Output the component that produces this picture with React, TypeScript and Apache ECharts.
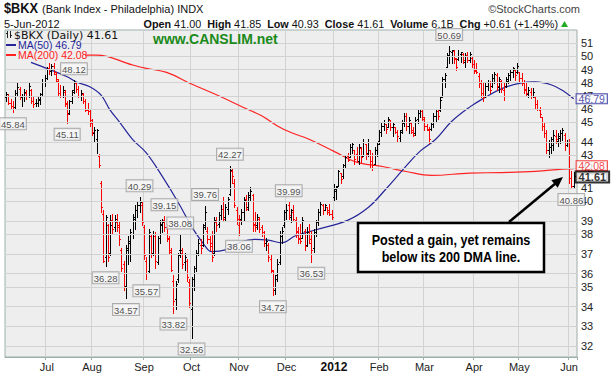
import React, { useEffect, useRef } from 'react';
import * as echarts from 'echarts';

// ---- OHLC data [open, high, low, close] per month ----
const jun2011 = [
  [46.9,47.3,46.6,47.1],[47.0,47.1,46.4,46.5],[46.5,46.8,46.1,46.3],[46.3,46.6,45.84,46.1],
  [46.2,47.4,46.1,47.2],[47.2,47.9,47.0,47.6],[47.5,47.6,46.8,46.9],[46.9,47.1,46.3,47.0],
  [47.0,47.5,46.6,47.3],[47.2,47.4,46.8,47.0],[47.0,47.9,46.9,47.7],[47.4,47.5,46.5,46.6],
  [46.6,46.9,46.2,46.4],[46.5,46.8,46.3,46.5],[46.5,46.9,46.3,46.7],[46.8,47.2,46.4,47.0],
  [47.1,48.2,47.0,48.0],[48.0,48.5,47.7,48.3],
];
const jul2011 = [
  [48.3,49.1,48.2,49.0],[49.0,49.4,48.6,48.8],[48.8,49.3,48.5,49.2],[49.2,49.4,48.6,48.7],
  [48.6,48.7,48.0,48.2],[48.1,48.2,47.0,47.2],[47.2,47.8,46.9,47.0],[47.0,47.7,46.9,47.4],
  [47.3,47.4,46.3,46.5],[46.4,46.6,45.11,45.7],[45.8,46.7,45.7,46.6],[46.6,47.4,46.5,47.3],
  [47.4,48.12,47.2,47.9],[47.9,48.0,47.3,47.5],[47.5,47.7,46.9,47.0],[47.0,47.4,46.7,47.2],
  [47.1,47.2,46.5,46.6],[46.6,46.8,45.9,46.0],[46.0,46.5,45.7,45.9],[45.9,46.1,44.9,45.1],
];
const aug2011 = [
  [45.3,45.4,44.3,44.5],[44.4,44.8,43.9,44.6],[44.0,44.7,43.1,44.65],[42.9,43.0,42.2,42.3],
  [41.2,41.3,39.4,39.7],[39.3,39.5,36.5,36.6],[36.8,39.2,36.28,39.1],[38.6,38.7,36.6,36.8],
  [37.0,39.2,36.9,38.6],[38.9,39.3,38.1,38.4],[38.5,39.2,38.3,39.0],[38.8,39.3,38.3,38.5],
  [38.6,38.8,37.5,37.8],[37.2,37.3,36.0,36.2],[36.4,36.6,35.0,35.2],[35.2,37.5,34.57,37.3],
  [37.2,38.0,36.4,37.7],[37.6,38.4,36.6,38.2],[38.1,39.3,37.9,39.1],[39.0,39.8,38.4,39.5],
  [39.5,40.0,39.1,39.8],[39.8,40.29,39.4,40.0],[39.8,40.0,38.6,38.8],
];
const sep2011 = [
  [38.5,38.6,36.7,36.9],[36.6,36.8,35.57,35.9],[36.0,38.4,35.9,38.2],[38.0,38.1,36.8,37.0],
  [37.0,38.3,36.9,38.1],[38.0,38.2,36.2,36.6],[36.5,38.0,36.4,37.9],[37.9,38.9,37.6,38.7],
  [38.6,39.0,38.2,38.8],[38.9,39.15,38.3,38.5],[38.5,38.7,37.7,37.9],[37.8,38.0,37.0,37.2],
  [37.1,37.3,36.0,36.1],[35.5,35.8,33.82,34.4],[34.5,35.5,34.0,35.3],[35.6,37.0,35.4,36.9],
  [37.2,38.08,36.8,37.2],[37.0,37.3,36.2,36.4],[36.5,37.0,36.1,36.8],[36.6,36.7,35.5,35.7],
  [35.4,35.6,34.1,34.3],
];
const oct2011 = [
  [34.0,35.7,32.56,35.6],[35.6,36.3,35.0,36.2],[36.2,37.2,36.0,37.0],[37.0,37.8,36.9,37.6],
  [37.5,37.8,37.0,37.3],[37.5,38.7,37.4,38.5],[38.6,39.76,38.4,39.4],[38.3,38.5,37.6,37.8],
  [37.8,38.0,37.2,37.4],[37.6,38.3,36.6,36.8],[37.0,39.1,36.9,38.9],[38.8,39.1,38.3,38.6],
  [38.7,39.4,38.5,39.2],[39.2,39.8,39.0,39.6],[39.6,40.3,38.9,39.0],[39.1,39.9,38.9,39.7],
  [39.6,40.3,39.3,40.2],[40.5,42.27,40.4,42.0],[41.9,42.1,41.2,41.6],[41.2,41.4,39.7,39.8],
  [39.5,39.7,38.7,39.0],
];
const nov2011 = [
  [38.6,39.2,38.06,38.9],[39.0,39.6,38.7,39.4],[39.4,40.3,38.9,40.1],[40.2,40.4,39.5,39.6],
  [39.7,40.6,39.5,40.4],[40.3,40.95,40.1,40.7],[40.4,40.5,38.3,38.6],[38.7,39.4,38.3,38.5],
  [38.6,39.3,38.4,39.1],[39.0,39.1,38.2,38.4],[38.5,38.6,38.0,38.1],[38.2,38.3,37.4,37.6],
  [37.6,37.9,37.2,37.7],[37.5,37.6,36.6,36.8],[36.7,36.9,35.9,36.1],[36.0,36.1,34.72,35.0],
  [35.0,35.8,34.8,35.6],[35.8,36.7,35.5,36.4],[36.5,38.3,36.4,38.1],[38.0,38.5,37.6,38.3],
  [38.6,39.5,38.5,39.4],
];
const dec2011 = [
  [39.4,39.9,39.0,39.5],[39.8,39.99,39.0,39.2],[39.1,39.6,38.8,39.5],[39.4,39.8,38.9,39.0],
  [38.9,39.1,37.95,38.2],[38.3,38.5,37.6,37.8],[37.9,38.7,37.6,37.7],[37.9,39.1,37.9,38.9],
  [38.3,38.4,37.2,37.4],[37.5,38.5,37.4,38.2],[38.1,38.7,37.6,37.8],[37.6,38.3,36.53,37.2],
  [37.3,38.4,37.1,38.2],[38.2,38.9,38.0,38.8],[38.8,39.6,38.6,39.4],[39.4,40.0,39.2,39.9],
  [39.8,39.9,39.3,39.5],[39.5,39.9,39.5,39.8],[39.7,39.7,39.3,39.4],[39.5,39.9,39.2,39.3],
  [39.3,39.5,39.0,39.1],
];
const jan2012 = [
  [40.3,41.1,40.1,40.8],[40.7,41.0,40.2,40.9],[41.0,42.0,41.0,41.9],[41.8,41.8,41.2,41.4],
  [41.6,42.4,41.5,42.3],[42.3,42.9,42.2,42.8],[42.9,43.1,42.6,42.65],[42.8,43.7,42.8,43.5],
  [43.5,43.8,43.1,43.7],[43.3,43.3,42.4,42.7],[43.0,43.5,42.6,42.6],[42.6,43.7,42.4,43.5],
  [43.4,43.5,42.5,42.8],[42.9,44.0,42.9,43.8],[43.7,43.7,42.7,43.0],[43.1,44.0,42.9,43.8],
  [43.3,43.3,42.2,42.6],[42.6,43.1,42.0,42.3],[42.4,43.5,42.4,43.3],[43.3,43.8,42.9,43.7],
];
const feb2012 = [
  [43.9,44.6,43.7,44.5],[44.5,45.1,44.2,44.9],[44.9,45.3,44.6,45.2],[45.0,45.0,44.4,44.7],
  [44.8,45.5,44.8,45.4],[45.3,45.3,44.6,44.8],[44.8,45.1,44.2,45.0],[44.85,44.85,44.4,44.5],
  [44.5,44.6,43.9,44.2],[44.1,44.6,43.9,44.5],[44.6,45.3,44.4,45.1],[45.2,45.8,44.9,45.6],
  [45.6,45.8,44.6,44.9],[44.9,45.5,44.4,45.3],[45.1,45.1,44.4,44.6],[44.5,44.85,44.2,44.3],
  [44.4,45.5,44.3,45.3],[45.4,46.0,45.1,45.8],[45.8,46.0,45.5,45.9],[45.9,46.0,45.3,45.5],
];
const mar2012 = [
  [45.4,45.5,44.65,44.9],[44.9,45.05,44.6,44.7],[44.6,44.8,43.74,44.0],[44.7,45.08,44.62,45.0],
  [45.0,45.77,44.85,45.6],[45.6,46.0,45.2,45.9],[45.9,46.1,45.4,45.6],[46.0,46.9,45.9,46.7],
  [46.9,48.39,46.9,48.2],[48.2,48.63,47.66,48.5],[49.1,50.13,49.1,50.0],[49.9,50.69,49.37,50.3],
  [50.2,50.38,49.37,50.35],[50.3,50.38,49.37,49.8],[49.7,49.75,48.88,49.1],[49.7,50.38,49.63,49.9],
  [50.1,50.25,49.5,50.2],[50.1,50.13,49.37,49.6],[49.5,50.13,49.12,50.0],[50.0,50.25,49.5,49.6],
  [49.6,50.25,49.5,50.1],[49.8,49.88,49.12,49.3],
];
const apr2012 = [
  [49.3,49.63,48.63,48.9],[48.8,49.37,48.63,48.7],[48.4,48.63,47.66,47.9],[48.0,48.14,46.94,47.2],
  [47.0,47.9,46.6,46.9],[47.0,47.9,46.9,47.7],[47.7,48.14,47.42,48.0],[48.0,48.1,47.2,47.4],
  [47.7,48.6,47.66,48.3],[48.3,48.76,47.9,48.6],[48.5,48.63,47.42,47.7],[47.6,48.39,47.3,48.2],
  [48.1,48.14,47.3,47.5],[47.4,47.9,46.7,47.0],[47.7,48.39,47.66,48.2],[48.1,48.63,47.9,48.5],
  [48.5,48.88,48.14,48.7],[48.7,49.12,48.39,49.0],[48.85,48.88,48.14,48.5],[48.7,49.37,48.63,49.2],
];
const may2012 = [
  [48.7,48.76,48.0,48.3],[48.3,48.63,47.78,48.0],[47.9,48.14,47.18,47.5],[47.4,47.9,47.06,47.2],
  [47.1,47.66,46.94,47.4],[47.3,47.54,46.82,47.0],[47.0,47.54,46.94,47.3],[46.9,46.94,46.12,46.4],
  [46.4,46.7,46.0,46.1],[46.0,46.23,45.53,45.7],[45.5,45.53,44.62,44.9],[44.9,45.08,44.18,44.4],
  [44.4,44.62,43.08,43.3],[43.3,43.96,42.86,43.5],[43.5,44.18,43.08,44.0],[43.6,44.62,43.29,44.3],
  [44.2,44.62,43.74,44.0],[43.9,44.4,43.52,44.2],[44.1,44.62,43.74,44.4],[44.4,44.73,43.96,44.6],
  [44.3,44.4,43.29,43.6],[43.6,43.96,43.52,43.8],
];
const jun2012 = [
  [43.8,44.0,41.2,41.5],[41.5,41.95,40.86,41.0],[41.0,41.85,40.93,41.61],
];

// ---- moving averages: [trading-day index, value] ----
const ma50 = [
  [11,49.45],[19,48.93],[27,48.38],[31,48.0],[37,47.65],[42,47.05],[46,45.99],[50,45.2],
  [56,43.98],[62,43.1],[69,41.6],[76,40.0],[82,38.55],[87,37.6],[91,37.1],[97,37.2],
  [103,37.6],[110,37.8],[116,37.75],[122,37.6],[128,38.0],[137,38.35],[151,38.9],
  [160,39.65],[168,40.8],[176,42.1],[183,43.2],[190,44.0],[197,45.2],[205,46.2],
  [212,46.9],[219,47.5],[227,47.9],[234,48.0],[241,47.8],[246,47.4],[251,46.79],
];
const ma200 = [
  [35,50.0],[40,50.0],[56,49.25],[62,49.0],[71,48.7],[82,47.85],[94,47.0],[106,46.1],
  [113,45.6],[120,44.9],[126,44.45],[134,44.0],[145,43.2],[155,42.5],[167,42.2],
  [177,41.9],[188,41.65],[205,41.8],[219,41.83],[234,41.9],[246,42.05],[251,42.08],
];

const priceTicks = [32,33,34,35,36,37,38,39,40,41,42,43,44,45,46,47,48,49,50,51];
const swingLabels = [
  [3,45.84,'bottom'],[27,45.11,'bottom'],[30,48.12,'top'],[44,36.28,'bottom'],
  [53,34.57,'bottom'],[59,40.29,'top'],[62,35.57,'bottom'],[70,39.15,'top'],
  [74,33.82,'bottom'],[77,38.08,'top'],[82,32.56,'bottom'],[88,39.76,'top'],
  [99,42.27,'top'],[103,38.06,'bottom'],[118,34.72,'bottom'],[125,39.99,'top'],
  [135,36.53,'bottom'],[196,50.69,'top'],[250,40.86,'bottom'],
];
const lastValues = { ma50: 46.79, ma200: 42.08, close: 41.61 };
const monthNames = ['Jan','Feb','Mar','Apr','May','Jun','Jul','Aug','Sep','Oct','Nov','Dec'];
const holidays = ['2011-07-04','2011-09-05','2011-11-24','2011-12-26','2012-01-02','2012-01-16','2012-02-20','2012-04-06','2012-05-28'];
const firstDay = '2011-06-07';
const lastDay = '2012-06-05';

const ohlc = [...jun2011, ...jul2011, ...aug2011, ...sep2011, ...oct2011, ...nov2011, ...dec2011,
  ...jan2012, ...feb2012, ...mar2012, ...apr2012, ...may2012, ...jun2012];

function tradingDays(): string[] {
  const out: string[] = [];
  const d = new Date(firstDay + 'T00:00:00Z');
  const end = new Date(lastDay + 'T00:00:00Z');
  while (d.getTime() <= end.getTime()) {
    const wd = d.getUTCDay();
    const s = d.toISOString().slice(0, 10);
    if (wd !== 0 && wd !== 6 && holidays.indexOf(s) < 0) out.push(s);
    d.setUTCDate(d.getUTCDate() + 1);
  }
  return out;
}

const FONT = 'Arial, "Liberation Sans", sans-serif';
const PLOT_BG = '#eeeeee';
const L = Math.log;

export default function App() {
  const ref = useRef<HTMLDivElement>(null);
  useEffect(() => {
    if (!ref.current) return;
    const chart = echarts.init(ref.current, undefined, { renderer: 'svg' });
    const dates = tradingDays();
    const categories = [...dates, ''];
    const isMonthStart = (index: number) =>
      index > 0 && index < dates.length && dates[index].slice(5, 7) !== dates[index - 1].slice(5, 7);

    const barData = ohlc.map((d, i) => {
      const prev = i === 0 ? d[0] : ohlc[i - 1][3];
      return [i, L(d[0]), L(d[1]), L(d[2]), L(d[3]), d[3] >= prev ? 1 : 0];
    });

    const tag = (v: number, color: string, bold: boolean, dy: number) => ({
      value: [ohlc.length - 1, L(v)],
      name: v.toFixed(2),
      label: {
        show: true, position: 'right', distance: 2, formatter: '{b}', offset: [0, dy],
        color, fontSize: bold ? 11 : 10.5, fontFamily: FONT, fontWeight: bold ? 'bold' : 'normal',
        backgroundColor: '#ffffff', borderColor: color, borderWidth: bold ? 2 : 1,
        padding: [0, 2, 0, 2], lineHeight: 9,
      },
    });

    const option: any = {
      animation: false,
      backgroundColor: '#ffffff',
      grid: { left: 5, right: 34, top: 30, bottom: 21, show: true, backgroundColor: PLOT_BG, borderColor: '#9bb0ab', borderWidth: 1 },
      xAxis: {
        type: 'category', data: categories, boundaryGap: true,
        axisLine: { show: true, lineStyle: { color: '#9bb0ab' } },
        axisTick: { show: true, interval: isMonthStart, length: 3, lineStyle: { color: '#9bb0ab' } },
        axisLabel: {
          interval: isMonthStart, margin: 4, color: '#222', fontSize: 11, fontFamily: FONT,
          formatter: (value: string) => {
            const m = Number(value.slice(5, 7));
            return m === 1 ? '{y|' + value.slice(0, 4) + '}' : monthNames[m - 1];
          },
          rich: { y: { fontWeight: 'bold', fontSize: 12, fontFamily: FONT, color: '#111' } },
        },
        splitLine: { show: true, interval: isMonthStart, lineStyle: { color: '#d2d2d2', width: 1 } },
      },
      yAxis: {
        type: 'value', position: 'right', min: L(31.613), max: L(51.94), scale: true,
        axisLine: { show: false }, axisTick: { show: false }, axisLabel: { show: false }, splitLine: { show: false },
      },
      series: [
        {
          type: 'line', name: 'grid', z: 1, data: [[0, L(40)]], symbol: 'none', silent: true,
          lineStyle: { opacity: 0 },
          markLine: {
            silent: true, symbol: ['none', 'none'], animation: false,
            lineStyle: { color: '#d2d2d2', width: 1, type: 'solid' },
            label: { show: true, position: 'end', distance: 4, color: '#222', fontSize: 11, fontFamily: FONT },
            data: priceTicks.map((v) => ({ yAxis: L(v), label: { formatter: String(v) } })),
          },
        },
        {
          type: 'line', name: 'MA(200)', z: 3, data: ma200.map(([i, v]) => [i, L(v)]), smooth: 0.4,
          symbol: 'none', lineStyle: { color: '#ff2222', width: 1.2 },
        },
        {
          type: 'line', name: 'MA(50)', z: 3, data: ma50.map(([i, v]) => [i, L(v)]), smooth: 0.4,
          symbol: 'none', lineStyle: { color: '#262699', width: 1.2 },
        },
        {
          type: 'custom', name: 'BKX', z: 4, data: barData,
          encode: { x: 0, y: [1, 2, 3, 4] },
          renderItem: (params: any, api: any) => {
            const i = api.value(0);
            const pO = api.coord([i, api.value(1)]);
            const pH = api.coord([i, api.value(2)]);
            const pL = api.coord([i, api.value(3)]);
            const pC = api.coord([i, api.value(4)]);
            const color = api.value(5) === 1 ? '#000000' : '#ff0000';
            const x = Math.round(pH[0]) + 0.5;
            const yo = Math.round(pO[1]) + 0.5;
            const yc = Math.round(pC[1]) + 0.5;
            const style = { stroke: color, lineWidth: 1 };
            return {
              type: 'group',
              children: [
                { type: 'line', shape: { x1: x, y1: Math.round(pH[1]), x2: x, y2: Math.round(pL[1]) + 1 }, style },
                { type: 'line', shape: { x1: x - 1.5, y1: yo, x2: x, y2: yo }, style },
                { type: 'line', shape: { x1: x, y1: yc, x2: x + 1.5, y2: yc }, style },
              ],
            };
          },
        },
        {
          type: 'scatter', name: 'swings', z: 6, symbolSize: 2, itemStyle: { color: 'rgba(0,0,0,0)' },
          data: swingLabels.map(([i, v, pos]) => ({
            value: [i, L(v as number)], name: (v as number).toFixed(2),
            label: {
              show: true, position: pos, distance: 5, formatter: '{b}', color: '#222',
              fontSize: 9.5, fontFamily: FONT, backgroundColor: '#f7f7f7', borderColor: '#9a9a9a',
              borderWidth: 1, padding: [1, 1, 0, 1], lineHeight: 10,
            },
          })),
        },
        {
          type: 'scatter', name: 'tags', z: 8, symbolSize: 2, itemStyle: { color: 'rgba(0,0,0,0)' },
          data: [
            tag(lastValues.ma50, '#262699', false, 0),
            tag(lastValues.ma200, '#ee1111', false, -3),
            tag(lastValues.close, '#000000', true, 1),
          ],
        },
      ],
      graphic: [
        { type: 'text', x: 4, y: 8, scaleX: 0.85, style: { text: '$BKX', font: 'bold 15px ' + FONT, fill: '#111', verticalAlign: 'middle' } },
        { type: 'text', x: 42, y: 9, style: { text: '(Bank Index - Philadelphia) INDX', font: '11px ' + FONT, fill: '#111', verticalAlign: 'middle' } },
        { type: 'text', x: 580, y: 9, style: { text: '\u00A9StockCharts.com', font: '11px ' + FONT, fill: '#444', align: 'right', verticalAlign: 'middle' } },
        { type: 'text', x: 4, y: 24, style: { text: '5-Jun-2012', font: '11px ' + FONT, fill: '#111', verticalAlign: 'middle' } },
        {
          type: 'text', x: 558, y: 24,
          style: {
            text: '{b|Open} 41.00  {b|High} 41.85  {b|Low} 40.93  {b|Close} 41.61  {b|Volume} 6.1B  {b|Chg} +0.61 (+1.49%)',
            font: '10.8px ' + FONT, fill: '#111', align: 'right', verticalAlign: 'middle',
            rich: { b: { fontWeight: 'bold', fontSize: 10.8, fontFamily: FONT, fill: '#111' } },
          },
        },
        { type: 'polygon', shape: { points: [[561, 27], [568, 27], [564.5, 21]] }, style: { fill: '#22aa22' } },
        // legend
        { type: 'rect', z: 50, shape: { x: 6, y: 31, width: 119, height: 9 }, style: { fill: PLOT_BG } },
        { type: 'rect', z: 50, shape: { x: 6, y: 40, width: 73, height: 10 }, style: { fill: PLOT_BG } },
        { type: 'rect', z: 50, shape: { x: 6, y: 50, width: 79, height: 10 }, style: { fill: PLOT_BG } },
        { type: 'line', z: 51, shape: { x1: 7.5, y1: 31, x2: 7.5, y2: 38 }, style: { stroke: '#222', lineWidth: 1 } },
        { type: 'line', z: 51, shape: { x1: 6, y1: 33.5, x2: 7.5, y2: 33.5 }, style: { stroke: '#222', lineWidth: 1 } },
        { type: 'line', z: 51, shape: { x1: 10.5, y1: 31, x2: 10.5, y2: 38 }, style: { stroke: '#222', lineWidth: 1 } },
        { type: 'line', z: 51, shape: { x1: 10.5, y1: 35.5, x2: 12, y2: 35.5 }, style: { stroke: '#222', lineWidth: 1 } },
        { type: 'text', z: 51, x: 14, y: 35, style: { text: '$BKX (Daily) 41.61', font: '11px "DejaVu Sans", sans-serif', fill: '#111', verticalAlign: 'middle' } },
        { type: 'line', z: 51, shape: { x1: 6, y1: 45, x2: 16, y2: 45 }, style: { stroke: '#262699', lineWidth: 2 } },
        { type: 'text', z: 51, x: 18, y: 45, style: { text: 'MA(50) 46.79', font: '10.5px ' + FONT, fill: '#262699', verticalAlign: 'middle' } },
        { type: 'line', z: 51, shape: { x1: 6, y1: 55, x2: 16, y2: 55 }, style: { stroke: '#ff2222', lineWidth: 2 } },
        { type: 'text', z: 51, x: 18, y: 55, style: { text: 'MA(200) 42.08', font: '10.5px ' + FONT, fill: '#ff2222', verticalAlign: 'middle' } },
        { type: 'text', z: 51, x: 153, y: 39, style: { text: 'www.CANSLIM.net', font: 'bold 14px ' + FONT, fill: '#1a8a1a', verticalAlign: 'middle' } },
        // annotation
        { type: 'line', z: 52, shape: { x1: 509, y1: 222, x2: 556, y2: 183 }, style: { stroke: '#000', lineWidth: 2.5 } },
        { type: 'polygon', z: 52, shape: { points: [[563, 177], [557.7, 187.8], [551.3, 180.2]] }, style: { fill: '#000' } },
        { type: 'rect', z: 52, shape: { x: 358, y: 223, width: 186, height: 49 }, style: { fill: '#ffffff', stroke: '#000', lineWidth: 2.5 } },
        { type: 'text', z: 53, x: 451, y: 240, scaleX: 0.9, originX: 0, originY: 0, style: { text: 'Posted a gain, yet remains', font: 'bold 14px ' + FONT, fill: '#000', align: 'center', verticalAlign: 'middle' } },
        { type: 'text', z: 53, x: 451, y: 257, scaleX: 0.9, originX: 0, originY: 0, style: { text: 'below its 200 DMA line.', font: 'bold 14px ' + FONT, fill: '#000', align: 'center', verticalAlign: 'middle' } },
      ],
    };
    chart.setOption(option);
    return () => chart.dispose();
  }, []);
  return <div ref={ref} style={{ position: 'fixed', left: 0, top: 0, width: 611, height: 378, background: '#fff' }} />;
}
